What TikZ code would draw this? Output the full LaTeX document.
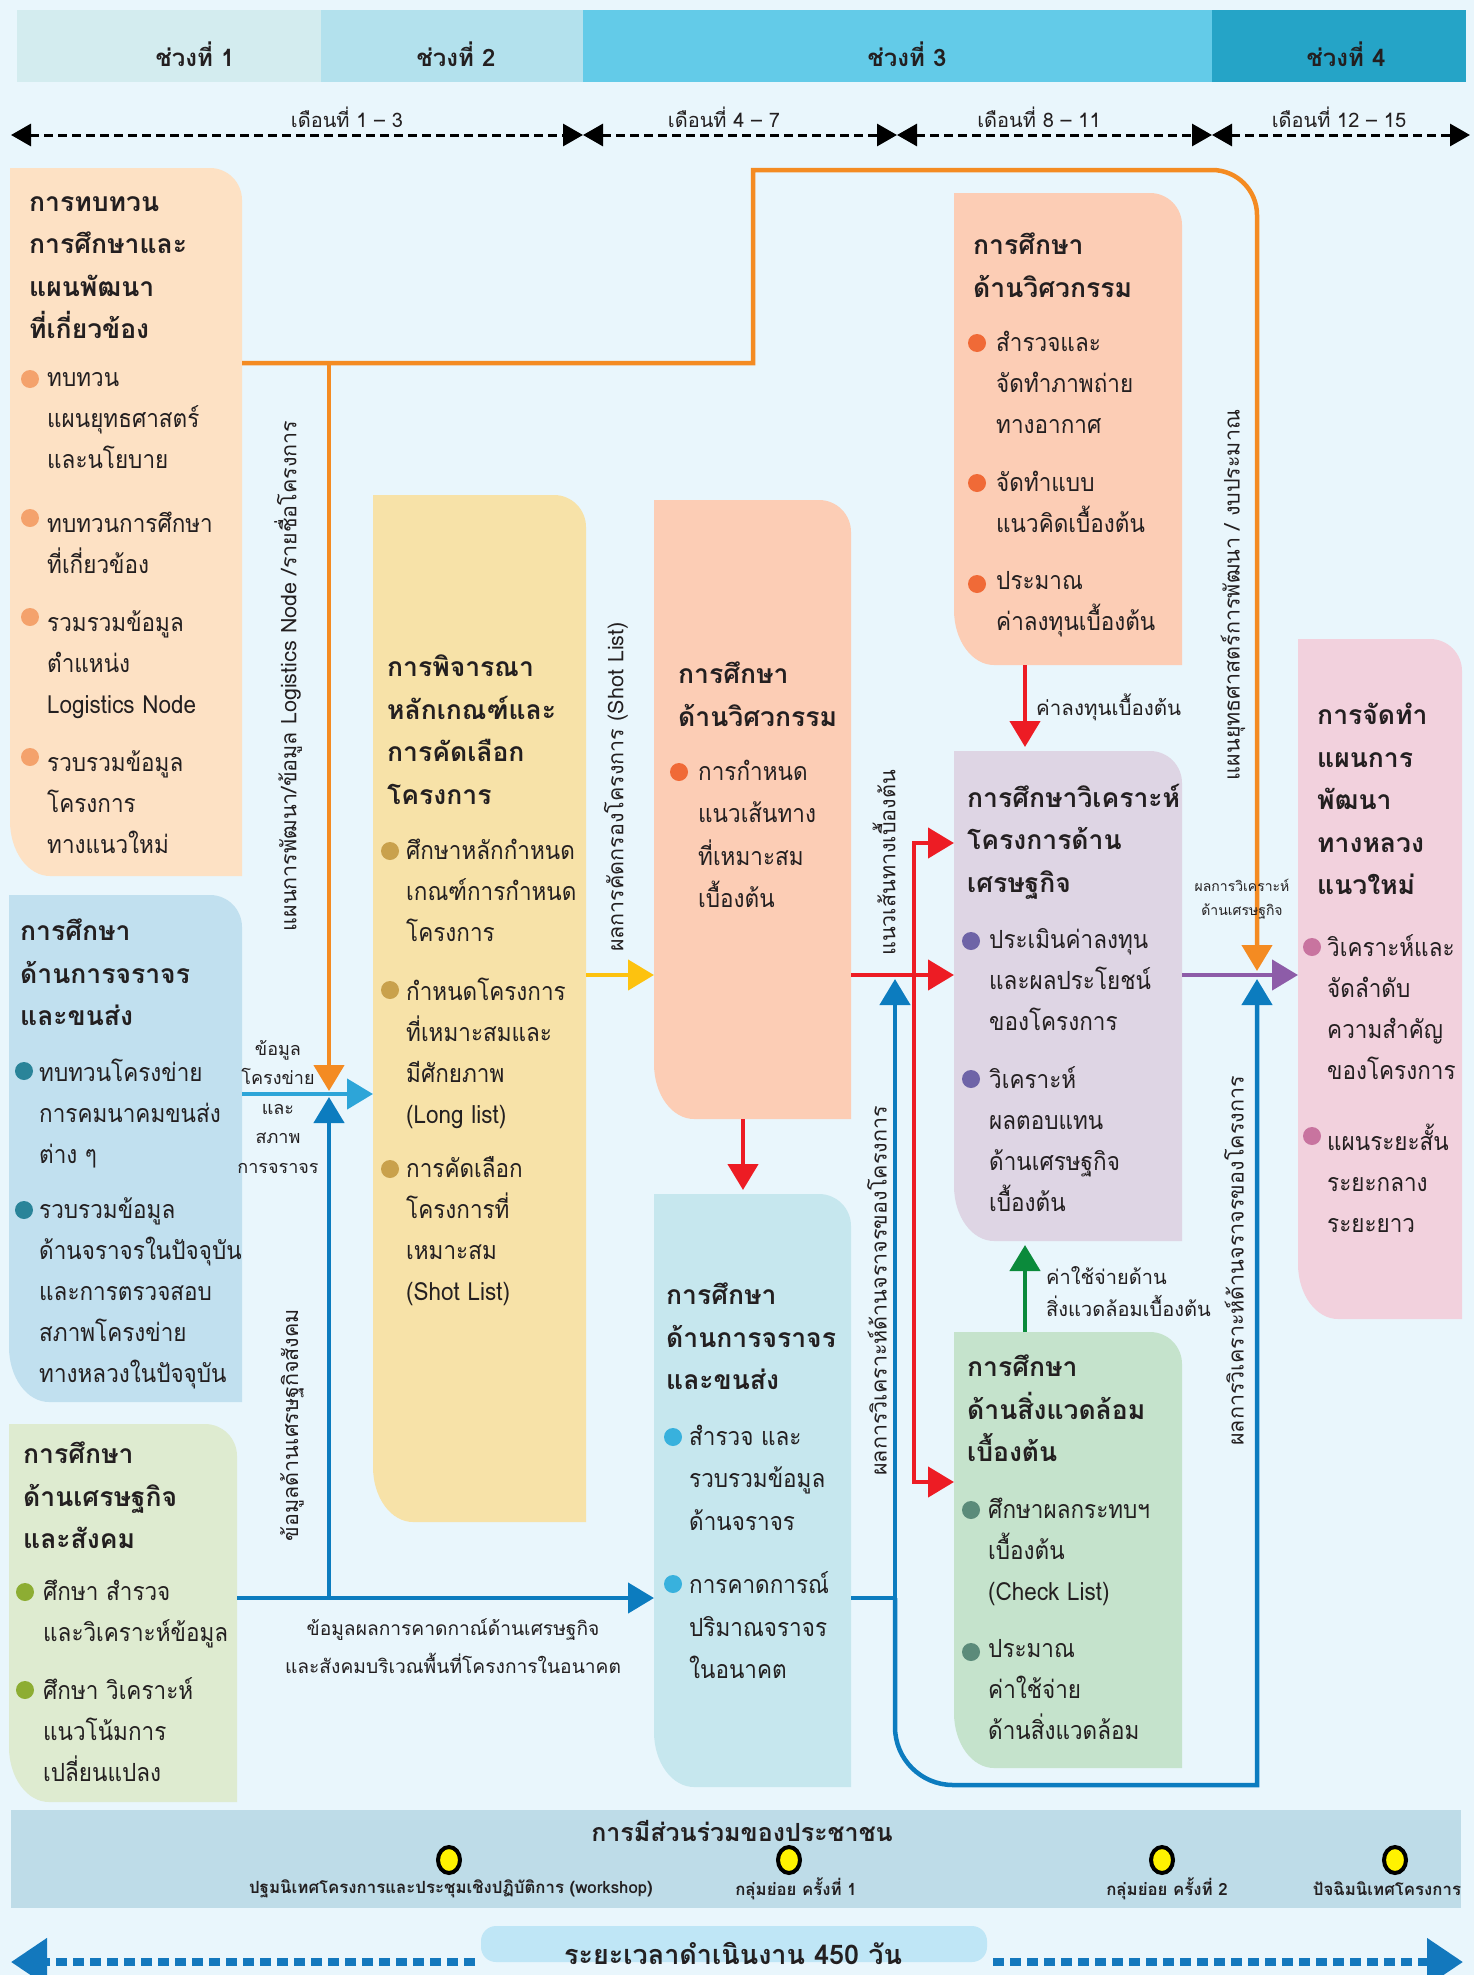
\documentclass[tikz,border=0pt]{standalone}
\usepackage{fontspec}
\setmainfont[Script=Thai]{Loma}
\newfontfamily\bodyfont[Script=Thai,FakeStretch=0.9]{Loma}
\usetikzlibrary{arrows.meta}

\definecolor{bgc}{HTML}{E9F6FC}
\definecolor{txtc}{HTML}{231F20}
\definecolor{barA}{HTML}{D3ECEF}
\definecolor{barB}{HTML}{B3E1ED}
\definecolor{barC}{HTML}{63CBE8}
\definecolor{barD}{HTML}{25A4C7}
\definecolor{revc}{HTML}{FDE1C4}
\definecolor{trfc}{HTML}{C1E0EF}
\definecolor{ecoc}{HTML}{DEEBD0}
\definecolor{critc}{HTML}{F7E2A8}
\definecolor{engc}{HTML}{FCCDB5}
\definecolor{trfsc}{HTML}{C6E7EE}
\definecolor{econc}{HTML}{DED5E4}
\definecolor{envc}{HTML}{C5E3CC}
\definecolor{planc}{HTML}{F2D1DD}
\definecolor{partc}{HTML}{BEDCE8}
\definecolor{durc}{HTML}{BFE6F6}
\definecolor{revd}{HTML}{F4A26C}
\definecolor{trfd}{HTML}{2A8499}
\definecolor{ecod}{HTML}{8DAD33}
\definecolor{critd}{HTML}{C9A14C}
\definecolor{engd}{HTML}{F06A37}
\definecolor{trfsd}{HTML}{38B1DD}
\definecolor{econd}{HTML}{6E64A7}
\definecolor{envd}{HTML}{5B8B7A}
\definecolor{pland}{HTML}{C8749F}
\definecolor{orng}{HTML}{F48B22}
\definecolor{redc}{HTML}{ED1C24}
\definecolor{yelc}{HTML}{FDC20F}
\definecolor{bluc}{HTML}{0C7CBF}
\definecolor{lblu}{HTML}{2DA5D8}
\definecolor{purc}{HTML}{8D5CA8}
\definecolor{grnc}{HTML}{0B8A3B}
\definecolor{darrc}{HTML}{1378BD}
\definecolor{dotc}{HTML}{FFF200}

% box with rounded top right and bottom left corner
\newcommand{\leaf}[2]{%
  \fill[#1] (#2.north west) -- ([xshift=-32pt]#2.north east)
    arc[start angle=270,end angle=360,radius=32] -- (#2.south east)
    -- ([xshift=40pt]#2.south west)
    arc[start angle=90,end angle=180,x radius=40,y radius=55] -- cycle;}

\begin{document}
\begin{tikzpicture}[x=1pt,y=1pt,yscale=-1,
  area/.style={inner sep=0pt,outer sep=0pt},
  ttl/.style={anchor=north west,inner sep=0pt,align=left,text=txtc,
    font=\bfseries\fontsize{26.5}{42.5}\selectfont,execute at begin node=\strut},
  itm/.style={anchor=north west,inner sep=0pt,align=left,text=txtc,
    font=\bodyfont\fontsize{25}{41}\selectfont,execute at begin node=\strut},
  vlab/.style={rotate=90,inner sep=0pt,text=txtc,font=\fontsize{21.5}{24}\selectfont},
  lab/.style={inner sep=0pt,align=center,text=txtc,font=\fontsize{19}{31}\selectfont},
  conn/.style={line width=4.5pt},
  tip/.style={-{Triangle[length=26pt,width=30pt]}},
  tline/.style={line width=3pt,dash pattern=on 9pt off 5pt,
    {Triangle[length=20pt,width=22pt]}-{Triangle[length=20pt,width=22pt]}},
  darr/.style={darrc,line width=8pt,dash pattern=on 11pt off 6pt,
    -{Triangle[length=36pt,width=46pt]}}]

\fill[bgc] (0,0) rectangle (1474,1975);
\useasboundingbox (0,0) rectangle (1474,1975);

% top bar
\fill[barA] (17,10) rectangle (321,82);
\fill[barB] (321,10) rectangle (583,82);
\fill[barC] (583,10) rectangle (1212,82);
\fill[barD] (1212,10) rectangle (1466,82);
\node[text=txtc,font=\bfseries\fontsize{24}{28}\selectfont] (ph1) at (195,54) {ช่วงที่ 1};
\node[text=txtc,font=\bfseries\fontsize{24}{28}\selectfont] (ph2) at (456,54) {ช่วงที่ 2};
\node[text=txtc,font=\bfseries\fontsize{24}{28}\selectfont] (ph3) at (907,54) {ช่วงที่ 3};
\node[text=txtc,font=\bfseries\fontsize{24}{28}\selectfont] (ph4) at (1346,54) {ช่วงที่ 4};

% months
\coordinate (t0) at (11,135);
\coordinate (t1) at (583,135);
\coordinate (t2) at (897,135);
\coordinate (t3) at (1212,135);
\coordinate (t4) at (1470,135);
\draw[tline] (t0) -- (t1);
\draw[tline] (t1) -- (t2);
\draw[tline] (t2) -- (t3);
\draw[tline] (t3) -- (t4);
\node[lab,font=\fontsize{20}{24}\selectfont] (m1) at (347,117) {เดือนที่ 1 – 3};
\node[lab,font=\fontsize{20}{24}\selectfont] (m2) at (724,117) {เดือนที่ 4 – 7};
\node[lab,font=\fontsize{20}{24}\selectfont] (m3) at (1039,117) {เดือนที่ 8 – 11};
\node[lab,font=\fontsize{20}{24}\selectfont] (m4) at (1339,117) {เดือนที่ 12 – 15};

% box areas
\node[area,minimum width=232,minimum height=708] (rev) at (126,522) {};
\node[area,minimum width=233,minimum height=507] (trf) at (125.5,1148.5) {};
\node[area,minimum width=228,minimum height=378] (eco) at (123,1613) {};
\node[area,minimum width=213,minimum height=1027] (crit) at (479.5,1008.5) {};
\node[area,minimum width=197,minimum height=619] (route) at (752.5,809.5) {};
\node[area,minimum width=197,minimum height=593] (trfs) at (752.5,1490.5) {};
\node[area,minimum width=228,minimum height=472] (eng) at (1068,429) {};
\node[area,minimum width=228,minimum height=490] (econ) at (1068,996) {};
\node[area,minimum width=228,minimum height=436] (env) at (1068,1550) {};
\node[area,minimum width=164,minimum height=680] (plan) at (1380,979) {};
\leaf{revc}{rev}
\leaf{trfc}{trf}
\leaf{ecoc}{eco}
\leaf{critc}{crit}
\leaf{engc}{route}
\leaf{trfsc}{trfs}
\leaf{engc}{eng}
\leaf{econc}{econ}
\leaf{envc}{env}
\leaf{planc}{plan}

% connectors
\coordinate (o1) at (329,363);
\coordinate (o2) at (753,363);
\coordinate (o3) at (753,170);
\coordinate (o4) at (1212,170);
\coordinate (jl) at (329,1094);
\coordinate (jr) at (1257,975);
\coordinate (lv) at (0,975);
\coordinate (b1) at (329,1598);
\coordinate (b2) at (895,1598);
\coordinate (b3) at (895,1727);
\coordinate (b4) at (1257,1785);
\coordinate (rd) at (743,0);
\coordinate (ra) at (914,843);
\coordinate (rc) at (914,1482);
\coordinate (gx) at (1025,0);
\draw[conn,orng,tip,shorten >=4pt] (rev.east |- o1) -- (o2) -- (o3) -- (o4)
  arc[start angle=270,end angle=360,radius=45] -- (jr);
\draw[conn,orng,tip,shorten >=3pt] (o1) -- (jl);
\draw[conn,bluc,tip] (eco.east |- b1) -- (trfs.west |- b1);
\draw[conn,bluc,tip,shorten >=3pt] (b1) -- (jl);
\draw[conn,lblu,tip] (trf.east |- jl) -- (crit.west |- jl);
\draw[conn,yelc,tip] (crit.east |- lv) -- (route.west |- lv);
\draw[conn,redc,tip] (route.east |- lv) -- (econ.west |- lv);
\draw[conn,redc,tip,shorten >=4pt] (route.south -| rd) -- (trfs.north -| rd);
\draw[conn,redc,{Triangle[length=26pt,width=30pt]}-{Triangle[length=26pt,width=30pt]}]
  (econ.west |- ra) -- (ra) -- (rc) -- (env.west |- rc);
\draw[conn,redc,tip,shorten >=4pt] (eng.south -| gx) -- (econ.north -| gx);
\draw[conn,grnc,tip,shorten >=4pt] (env.north -| gx) -- (econ.south -| gx);
\draw[conn,purc,tip] (econ.east |- lv) -- (plan.west |- lv);
\draw[conn,bluc] (trfs.east |- b2) -- (b2);
\draw[conn,bluc,tip,shorten >=4pt] (b2) -- (b2 |- lv);
\draw[conn,bluc,tip,shorten >=4pt] (b2) -- (b3)
  arc[start angle=180,end angle=90,radius=58] -- (b4) -- (jr);

% connector labels
\node[vlab] (lplan) at (288,676) {แผนการพัฒนา/ข้อมูล Logistics Node /รายชื่อโครงการ};
\node[vlab] (lsoc) at (292,1425) {ข้อมูลด้านเศรษฐกิจสังคม};
\node[vlab] (lshort) at (616,787) {ผลการคัดกรองโครงการ (Shot List)};
\node[vlab] (lroute) at (884,863) {แนวเส้นทางเบื้องต้น};
\node[vlab] (ltrfa) at (877,1291) {ผลการวิเคราะห์ด้านจราจรของโครงการ};
\node[vlab] (ltrfb) at (1234,1261) {ผลการวิเคราะห์ด้านจราจรของโครงการ};
\node[vlab] (lstrat) at (1233,595) {แผนยุทธศาสตร์การพัฒนา / งบประมาณ};
\node[lab,font=\fontsize{18}{29.5}\selectfont] (lnet) at (278,1107) {ข้อมูล\\โครงข่าย\\และ\\สภาพ\\การจราจร};
\node[lab,font=\fontsize{19.2}{38}\selectfont] (lfore) at (453,1646) {ข้อมูลผลการคาดกาณ์ด้านเศรษฐกิจ\\และสังคมบริเวณพื้นที่โครงการในอนาคต};
\node[lab,anchor=west,font=\fontsize{20.5}{24}\selectfont] (lcost) at (1036,707) {ค่าลงทุนเบื้องต้น};
\node[lab,anchor=west,align=left,font=\fontsize{20}{32}\selectfont] (lenv) at (1046,1292) {ค่าใช้จ่ายด้าน\\สิ่งแวดล้อมเบื้องต้น};
\node[lab,font=\fontsize{14}{24}\selectfont] (lecon) at (1242,899) {ผลการวิเคราะห์\\ด้านเศรษฐกิจ};

% box A
\node[ttl] (rev-t) at (29,196) {การทบทวน\\การศึกษาและ\\แผนพัฒนา\\ที่เกี่ยวข้อง};
\node[itm] (rev-1) at (47,372.5) {ทบทวน\\แผนยุทธศาสตร์\\และนโยบาย};
\node[itm] (rev-2) at (47,511.5) {ทบทวนการศึกษา\\ที่เกี่ยวข้อง};
\node[itm] (rev-3) at (47,610.5) {รวมรวมข้อมูล\\ตำแหน่ง\\Logistics Node};
\node[itm] (rev-4) at (47,750.5) {รวบรวมข้อมูล\\โครงการ\\ทางแนวใหม่};
\foreach \yy in {379,518,617,757} \fill[revd] (30,\yy) circle (9);

% box B
\node[ttl] (trf-t) at (20,919) {การศึกษา\\ด้านการจราจร\\และขนส่ง};
\node[itm] (trf-1) at (39,1058.5) {ทบทวนโครงข่าย\\การคมนาคมขนส่ง\\ต่าง ๆ};
\node[itm] (trf-2) at (39,1197.5) {รวบรวมข้อมูล\\ด้านจราจรในปัจจุบัน\\และการตรวจสอบ\\สภาพโครงข่าย\\ทางหลวงในปัจจุบัน};
\foreach \yy in {1071,1210} \fill[trfd] (24,\yy) circle (9);

% box C
\node[ttl] (eco-t) at (23,1442) {การศึกษา\\ด้านเศรษฐกิจ\\และสังคม};
\node[itm] (eco-1) at (43,1579.5) {ศึกษา สำรวจ\\และวิเคราะห์ข้อมูล};
\node[itm] (eco-2) at (43,1677.5) {ศึกษา วิเคราะห์\\แนวโน้มการ\\เปลี่ยนแปลง};
\foreach \yy in {1592,1690} \fill[ecod] (25,\yy) circle (9);

% box D
\node[ttl] (crit-t) at (387,655) {การพิจารณา\\หลักเกณฑ์และ\\การคัดเลือก\\โครงการ};
\node[itm] (crit-1) at (406,838.5) {ศึกษาหลักกำหนด\\เกณฑ์การกำหนด\\โครงการ};
\node[itm] (crit-2) at (406,977.5) {กำหนดโครงการ\\ที่เหมาะสมและ\\มีศักยภาพ\\(Long list)};
\node[itm] (crit-3) at (406,1156.5) {การคัดเลือก\\โครงการที่\\เหมาะสม\\(Shot List)};
\foreach \yy in {851,990,1169} \fill[critd] (390,\yy) circle (9);

% box E
\node[ttl] (route-t) at (678,662) {การศึกษา\\ด้านวิศวกรรม};
\node[itm,font=\bodyfont\fontsize{25}{42.5}\selectfont] (route-1) at (698,759.5) {การกำหนด\\แนวเส้นทาง\\ที่เหมาะสม\\เบื้องต้น};
\fill[engd] (679,772) circle (9);

% box F
\node[ttl] (trfs-t) at (666,1283) {การศึกษา\\ด้านการจราจร\\และขนส่ง};
\node[itm,font=\bodyfont\fontsize{25}{42.5}\selectfont] (trfs-1) at (689,1424.5) {สำรวจ และ\\รวบรวมข้อมูล\\ด้านจราจร};
\node[itm,font=\bodyfont\fontsize{25}{42.5}\selectfont] (trfs-2) at (689,1571.5) {การคาดการณ์\\ปริมาณจราจร\\ในอนาคต};
\foreach \yy in {1437,1584} \fill[trfsd] (673,\yy) circle (9);

% box G
\node[ttl] (eng-t) at (973,233) {การศึกษา\\ด้านวิศวกรรม};
\node[itm] (eng-1) at (996,330.5) {สำรวจและ\\จัดทำภาพถ่าย\\ทางอากาศ};
\node[itm] (eng-2) at (996,470.5) {จัดทำแบบ\\แนวคิดเบื้องต้น};
\node[itm] (eng-3) at (996,571.5) {ประมาณ\\ค่าลงทุนเบื้องต้น};
\foreach \yy in {343,483,584} \fill[engd] (977,\yy) circle (9);

% box H
\node[ttl] (econ-t) at (967,784) {การศึกษาวิเคราะห์\\โครงการด้าน\\เศรษฐกิจ};
\node[itm] (econ-1) at (989,928.5) {ประเมินค่าลงทุน\\และผลประโยชน์\\ของโครงการ};
\node[itm] (econ-2) at (989,1066.5) {วิเคราะห์\\ผลตอบแทน\\ด้านเศรษฐกิจ\\เบื้องต้น};
\foreach \yy in {941,1079} \fill[econd] (971,\yy) circle (9);

% box I
\node[ttl] (env-t) at (967,1355) {การศึกษา\\ด้านสิ่งแวดล้อม\\เบื้องต้น};
\node[itm] (env-1) at (988,1497.5) {ศึกษาผลกระทบฯ\\เบื้องต้น\\(Check List)};
\node[itm] (env-2) at (988,1639.5) {ประมาณ\\ค่าใช้จ่าย\\ด้านสิ่งแวดล้อม};
\foreach \yy in {1510,1652} \fill[envd] (971,\yy) circle (9);

% box J
\node[ttl] (plan-t) at (1317,703) {การจัดทำ\\แผนการ\\พัฒนา\\ทางหลวง\\แนวใหม่};
\node[itm] (plan-1) at (1327,934.5) {วิเคราะห์และ\\จัดลำดับ\\ความสำคัญ\\ของโครงการ};
\node[itm] (plan-2) at (1327,1123.5) {แผนระยะสั้น\\ระยะกลาง\\ระยะยาว};
\foreach \yy in {947,1136} \fill[pland] (1312,\yy) circle (9);

% public participation
\fill[partc] (11,1810) rectangle (1461,1908);
\node[text=txtc,font=\bfseries\fontsize{25}{30}\selectfont] (part) at (742,1831) {การมีส่วนร่วมของประชาชน};
\foreach \xx in {449,789,1162,1395}
  \filldraw[fill=dotc,draw=black,line width=4pt] (\xx,1860) ellipse [x radius=11,y radius=13];
\node[text=txtc,font=\bfseries\fontsize{16.8}{20}\selectfont] (ev1) at (451,1889) {ปฐมนิเทศโครงการและประชุมเชิงปฏิบัติการ (workshop)};
\node[text=txtc,font=\bfseries\fontsize{16.8}{20}\selectfont] (ev2) at (796,1889) {กลุ่มย่อย ครั้งที่ 1};
\node[text=txtc,font=\bfseries\fontsize{16.8}{20}\selectfont] (ev3) at (1167,1889) {กลุ่มย่อย ครั้งที่ 2};
\node[text=txtc,font=\bfseries\fontsize{16.8}{20}\selectfont] (ev4) at (1387,1889) {ปัจฉิมนิเทศโครงการ};

% duration
\node[area,minimum width=506,minimum height=66] (dur) at (734,1959) {};
\fill[durc,rounded corners=15] (dur.north west) rectangle ([yshift=-30pt]dur.south east);
\node[inner sep=0pt,text=txtc,font=\bfseries\fontsize{27}{30}\selectfont] (durt) at (733,1953) {ระยะเวลาดำเนินงาน 450 วัน};
\coordinate (dl) at (11,1962);
\coordinate (dr) at (1463,1962);
\draw[darr,shorten <=6pt] (dur.west |- dl) -- (dl);
\draw[darr,shorten <=6pt] (dur.east |- dr) -- (dr);

\end{tikzpicture}
\end{document}
